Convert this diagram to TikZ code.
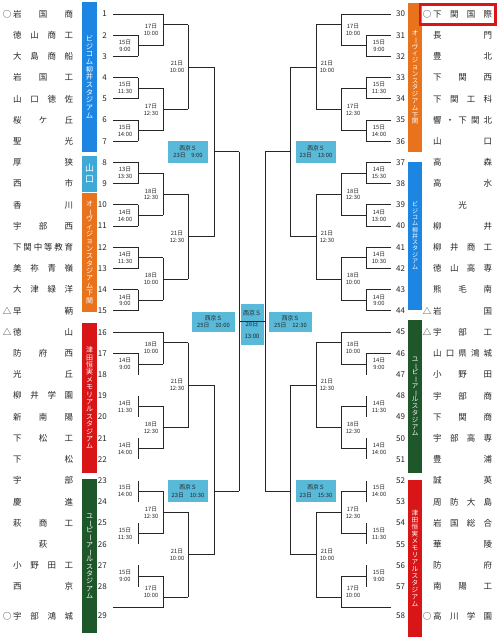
\documentclass[tikz,border=0pt]{standalone}
\usepackage{fontspec}
\usepackage{graphicx}
\usepackage{tikz}
\newfontfamily\jp{Noto Sans CJK JP}

\definecolor{bizblue}{RGB}{28,134,226}
\definecolor{yamablue}{RGB}{62,168,214}
\definecolor{ovorange}{RGB}{232,115,28}
\definecolor{tsured}{RGB}{216,22,24}
\definecolor{upgreen}{RGB}{30,88,42}
\definecolor{kyoubox}{RGB}{88,185,217}

% row -> y
\pgfmathdeclarefunction{ry}{1}{\pgfmathparse{14+21.21*(#1-1)}}

% spread names, stacked venue names
\def\gp{\hfill}
\newcommand\vb{\rotatebox[origin=c]{-90}{ー}}
\def\vstA#1#2\endv{\hbox to 14pt{\hss#1\hss}\if\relax\detokenize{#2}\relax\else\vstA#2\endv\fi}
\newcommand\vstack[2]{\vbox{\baselineskip=#1\lineskip=0pt\lineskiplimit=-\maxdimen\vstA#2\endv}}

% one half of the bracket (left side coordinates)
\newcommand\halfbracket[5]{%
  \foreach \i in {1,16,29} \draw[br] (113,{ry(\i)}) -- (163,{ry(\i)});
  \foreach \i in {2,...,15,17,...,28} \draw[br] (113,{ry(\i)}) -- (138,{ry(\i)});
  % first round
  \foreach \i/\lab in {#2} {
    \draw[br] (138,{ry(\i)}) -- (138,{ry(\i+1)}) (138,{ry(\i+.5)}) -- (163,{ry(\i+.5)});
    \node[tm] (#1a\i) at (125,{ry(\i+.5)}) {\lab};
  }
  % second round
  \foreach \ya/\yb/\yo/\lab [count=\k] in {1/2.5/1.5/{17日\\10:00}, 4.5/6.5/5.5/{17日\\12:30},
      8.5/10.5/9.5/{18日\\12:30}, 12.5/14.5/13.5/{18日\\10:00}, 16/17.5/16.5/{18日\\10:00},
      19.5/21.5/20.5/{18日\\12:30}, 23.5/25.5/24.5/{17日\\12:30}, 27.5/29/28.5/{17日\\10:00}} {
    \draw[br] (163,{ry(\ya)}) -- (163,{ry(\yb)}) (163,{ry(\yo)}) -- (188,{ry(\yo)});
    \node[tm] (#1b\k) at (151,{ry((\ya+\yb)/2)}) {\lab};
  }
  % third round
  \foreach \ya/\yb/\lab [count=\k] in {1.5/5.5/{21日\\10:00}, 9.5/13.5/{21日\\12:30},
      16.5/20.5/{21日\\12:30}, 24.5/28.5/{21日\\10:00}} {
    \draw[br] (188,{ry(\ya)}) -- (188,{ry(\yb)}) (188,{ry((\ya+\yb)/2)}) -- (214,{ry((\ya+\yb)/2)});
    \node[tm] (#1c\k) at (177,{ry((\ya+\yb)/2)}) {\lab};
  }
  % quarter finals
  \draw[br] (214,{ry(3.5)}) -- (214,{ry(11.5)}) (214,{ry(7.5)}) -- (239,{ry(7.5)});
  \draw[br] (214,{ry(18.5)}) -- (214,{ry(26.5)}) (214,{ry(23.5)}) -- (239,{ry(23.5)});
  \node[kbox, minimum width=40pt] (#1q1) at (188,{ry(7.5)}) {#3};
  \node[kbox, minimum width=40pt] (#1q2) at (188,{ry(23.5)}) {#4};
  % semi final
  \draw[br] (239,{ry(7.5)}) -- (239,{ry(23.5)}) (239,321) -- (252,321);
  \node[kbox, minimum width=43pt, minimum height=20pt] (#1s) at (213.5,322) {#5};
}

\begin{document}
\begin{tikzpicture}[
    x=1pt, y=-1pt,
    br/.style={line width=0.9pt, black!85},
    tm/.style={font=\jp\fontsize{5.8}{6.9}\selectfont, align=center, inner sep=0pt, text=black!85},
    num/.style={font=\jp\fontsize{8}{8}\selectfont, inner sep=0pt, text=black!85},
    nm/.style={font=\jp\fontsize{8.5}{8.5}\selectfont, inner sep=0pt, anchor=west, text=black!85},
    mk/.style={font=\jp\fontsize{8.5}{8.5}\selectfont, inner sep=0pt, text=black!85},
    venue/.style={fill=#1, text=white, minimum width=15pt, inner sep=0pt},
    kbox/.style={fill=kyoubox, align=center, font=\jp\fontsize{5.8}{7.5}\selectfont, inner sep=1pt, minimum height=22pt, text=black!85}
]
\useasboundingbox[fill=white] (0,0) rectangle (497,640);

% venues, left
\node[venue=bizblue, minimum height=150pt, font=\jp\fontsize{7.3}{7.3}\selectfont] (vL1) at (89.5,77) {\vstack{7.7pt}{ビジコム柳井スタジアム}};
\node[venue=yamablue, minimum height=36pt, font=\jp\fontsize{9}{9}\selectfont] (vL2) at (89.5,174) {\vstack{11pt}{山口}};
\node[venue=ovorange, minimum height=119pt, font=\jp\fontsize{7}{7}\selectfont] (vL3) at (89.5,252.5) {\vstack{7.4pt}{オ\vb ヴィジョンスタジアム下関}};
\node[venue=tsured, minimum height=150pt, font=\jp\fontsize{7}{7}\selectfont] (vL4) at (89.5,398) {\vstack{7.4pt}{津田恒実メモリアルスタジアム}};
\node[venue=upgreen, minimum height=154pt, font=\jp\fontsize{7}{7}\selectfont] (vL5) at (89.5,556) {\vstack{7.3pt}{ユ\vb ピ\vb ア\vb ルスタジアム}};

% venues, right
\node[venue=ovorange, minimum width=14pt, minimum height=149pt, font=\jp\fontsize{6.5}{6.5}\selectfont] (vR1) at (415,77.5) {\vstack{6.8pt}{オ\vb ヴィジョンスタジアム下関}};
\node[venue=bizblue, minimum width=14pt, minimum height=148pt, font=\jp\fontsize{6}{6}\selectfont] (vR2) at (415,236) {\vstack{6.3pt}{ビジコム柳井スタジアム}};
\node[venue=upgreen, minimum width=14pt, minimum height=153pt, font=\jp\fontsize{6.5}{6.5}\selectfont] (vR3) at (415,396.5) {\vstack{6.8pt}{ユ\vb ピ\vb ア\vb ルスタジアム}};
\node[venue=tsured, minimum width=14pt, minimum height=157pt, font=\jp\fontsize{6.6}{6.6}\selectfont] (vR4) at (415,558.5) {\vstack{7pt}{津田恒実メモリアルスタジアム}};

% numbers
\foreach \i in {1,...,29} \node[num, anchor=east] (n\i) at (107,{ry(\i)+8*(\i==29)}) {\i};
\foreach \j in {30,...,58} \node[num, anchor=west] (n\j) at (396,{ry(\j-29)+8*(\j==58)}) {\j};

% schools, left
\foreach \i/\nm in {1/岩\gp 国\gp 商, 2/徳\gp 山\gp 商\gp 工, 3/大\gp 島\gp 商\gp 船, 4/岩\gp 国\gp 工,
    5/山\gp 口\gp 徳\gp 佐, 6/桜\gp ケ\gp 丘, 7/聖\gp 光, 8/厚\gp 狭, 9/西\gp 市, 10/香\gp 川,
    11/宇\gp 部\gp 西, 12/下\gp 関\gp 中\gp 等\gp 教\gp 育, 13/美\gp 祢\gp 青\gp 嶺, 14/大\gp 津\gp 緑\gp 洋,
    15/早\gp 鞆, 16/徳\gp 山, 17/防\gp 府\gp 西, 18/光\gp 丘, 19/柳\gp 井\gp 学\gp 園, 20/新\gp 南\gp 陽,
    21/下\gp 松\gp 工, 22/下\gp 松, 23/宇\gp 部, 24/慶\gp 進, 25/萩\gp 商\gp 工, 26/\gp 萩\gp,
    27/小\gp 野\gp 田\gp 工, 28/西\gp 京, 29/宇\gp 部\gp 鴻\gp 城}
  \node[nm] (t\i) at (13,{ry(\i)+8*(\i==29)}) {\hbox to 60pt{\nm}};

% schools, right
\foreach \j/\nm in {30/下\gp 関\gp 国\gp 際, 31/長\gp 門, 32/豊\gp 北, 33/下\gp 関\gp 西, 34/下\gp 関\gp 工\gp 科,
    35/響\gp ・\gp 下\gp 関\gp 北, 36/山\gp 口, 37/高\gp 森, 38/高\gp 水, 39/\gp 光\gp, 40/柳\gp 井,
    41/柳\gp 井\gp 商\gp 工, 42/徳\gp 山\gp 高\gp 専, 43/熊\gp 毛\gp 南, 44/岩\gp 国, 45/宇\gp 部\gp 工,
    46/山\gp 口\gp 県\gp 鴻\gp 城, 47/小\gp 野\gp 田, 48/宇\gp 部\gp 商, 49/下\gp 関\gp 商, 50/宇\gp 部\gp 高\gp 専,
    51/豊\gp 浦, 52/誠\gp 英, 53/周\gp 防\gp 大\gp 島, 54/岩\gp 国\gp 総\gp 合, 55/華\gp 陵, 56/防\gp 府,
    57/南\gp 陽\gp 工, 58/高\gp 川\gp 学\gp 園}
  \node[nm] (t\j) at (433,{ry(\j-29)+8*(\j==58)}) {\hbox to 59pt{\nm}};

% seeds
\node[mk] (m1) at (7,{ry(1)}) {○};
\node[mk] (m15) at (7,{ry(15)}) {△};
\node[mk] (m16) at (7,{ry(16)}) {△};
\node[mk] (m29) at (7,{ry(29)+8}) {○};
\node[mk] (m30) at (427,{ry(1)}) {○};
\node[mk] (m44) at (427,{ry(15)}) {△};
\node[mk] (m45) at (427,{ry(16)}) {△};
\node[mk] (m58) at (427,{ry(29)+8}) {○};
\draw[tsured, line width=2.6pt] (420,4.5) rectangle (495.5,24.5);

% final
\node[kbox, minimum width=23pt, minimum height=41pt, inner sep=0pt, font=\jp\fontsize{6}{11.5}\selectfont] (fin) at (252,324.5) {西京Ｓ\\26日\\13:00};

\halfbracket{L}{2/{15日\\9:00}, 4/{15日\\11:30}, 6/{15日\\14:00}, 8/{13日\\13:30}, 10/{14日\\14:00},
  12/{14日\\11:30}, 14/{14日\\9:00}, 17/{14日\\9:00}, 19/{14日\\11:30}, 21/{14日\\14:00},
  23/{15日\\14:00}, 25/{15日\\11:30}, 27/{15日\\9:00}}%
  {西京Ｓ\\23日　9:00}{西京Ｓ\\23日　10:30}{西京Ｓ\\25日　10:00}

\begin{scope}[xshift=504pt, xscale=-1]
\halfbracket{R}{2/{15日\\9:00}, 4/{15日\\11:30}, 6/{15日\\14:00}, 8/{14日\\15:30}, 10/{14日\\13:00},
  12/{14日\\10:30}, 14/{14日\\9:00}, 17/{14日\\9:00}, 19/{14日\\11:30}, 21/{14日\\14:00},
  23/{15日\\14:00}, 25/{15日\\11:30}, 27/{15日\\9:00}}%
  {西京Ｓ\\23日　13:00}{西京Ｓ\\23日　15:30}{西京Ｓ\\25日　12:30}
\end{scope}
\end{tikzpicture}
\end{document}
